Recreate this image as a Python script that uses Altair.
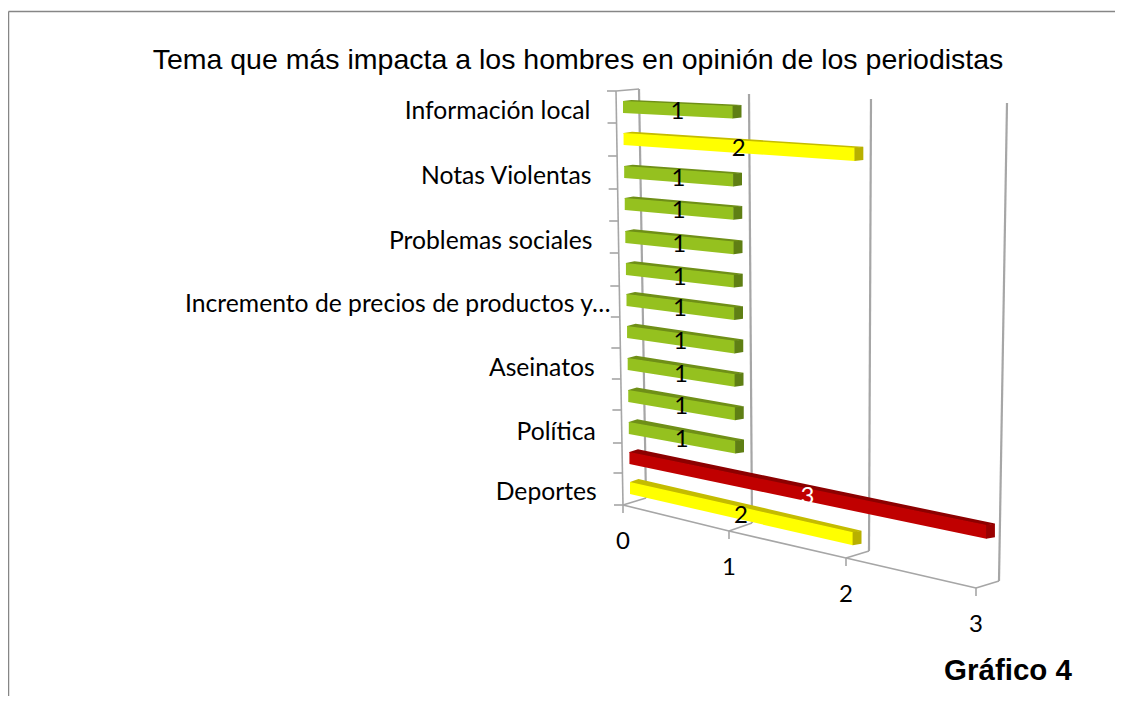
import altair as alt
import pandas as pd

# ---------- chart content ----------
TITLE = "Tema que más impacta a los hombres en opinión de los periodistas"
FOOTER = "Gráfico 4"
# bottom to top, as on the category axis; only every other category shows its name
categories = ["Deportes", "", "Política", "", "Aseinatos", "",
              "Incremento de precios de productos y…", "", "Problemas sociales", "",
              "Notas Violentas", "", "Información local"]
values = [2, 3, 1, 1, 1, 1, 1, 1, 1, 1, 1, 2, 1]
value_ticks = [0, 1, 2, 3]

# colour per value: (front, top, side, label)
palette = {
    1: ("#95C11F", "#6F8F17", "#5F7F14", "black"),
    2: ("#FFFF00", "#C4BC00", "#B8B000", "black"),
    3: ("#C00000", "#8C0000", "#9A0000", "white"),
}

# ---------- perspective calibration: page pixels of the 3-D box ----------
FRONT_X_BOTTOM = [630, 736, 853, 986]
FRONT_X_TOP = [623, 733, 855, 991]
ROW_TOP = [482, 452, 422, 390, 358, 326, 294, 263, 231, 198, 166, 133, 101]
SLOPE = [0, 1.0, 2.3, 3.58]
EDGE_Y = [505, 473, 443, 410, 379, 348, 317, 286, 253, 221, 189, 156, 123, 91]
DEPTH_DX = 8.5
FLOOR = [(623, 505), (729, 531), (846, 558), (976, 588)]
WALL_BOTTOM = [(646, 498), (752, 523), (869, 551), (999, 581)]
WALL_TOP = [(639, 89), (749, 94), (871, 99), (1007, 103)]
LEFT_TOP = (616, 91)


def bar_point(i, v):
    t = i / 12
    x = FRONT_X_BOTTOM[v] + (FRONT_X_TOP[v] - FRONT_X_BOTTOM[v]) * t
    y = ROW_TOP[i] + (21.8 - 1.4 * i) * SLOPE[v]
    return x, y, 12 + 0.6 * v


faces, labels = [], []
for i, (cat, val) in enumerate(zip(categories, values)):
    front, top, side, ink = palette[val]
    x0, y0, h0 = bar_point(i, 0)
    x1, y1, h1 = bar_point(i, val)
    k = (y1 - y0) / (x1 - x0)
    dy0 = -3 + 2 * i / 12      # depth rise of the bar at its root
    dy1 = -1.5 + 0.5 * i / 12  # depth rise of the bar at its tip
    back_k = (y1 + dy1 - y0 - dy0) / (x1 - x0)
    lap = 0.8                  # overlap hides the seam between two faces
    # top face
    rows = [(x0, y0, y0 + lap),
            (x0 + DEPTH_DX, y0 + dy0, y0 + k * DEPTH_DX + lap),
            (x1, y1 + dy1 - back_k * DEPTH_DX, y1 + lap),
            (x1 + DEPTH_DX, y1 + dy1, y1 + dy1)]
    faces += [dict(key=f"{i:02d}a", x=a, y=b, y2=c, shade=top) for a, b, c in rows]
    # front face
    faces += [dict(key=f"{i:02d}b", x=x0, y=y0, y2=y0 + h0, shade=front),
              dict(key=f"{i:02d}b", x=x1, y=y1, y2=y1 + h1, shade=front)]
    # side face
    faces += [dict(key=f"{i:02d}c", x=x1 - 0.4, y=y1, y2=y1 + h1, shade=side),
              dict(key=f"{i:02d}c", x=x1 + DEPTH_DX, y=y1 + dy1, y2=y1 + h1 + dy1, shade=side)]
    labels.append(dict(x=(x0 + x1) / 2 - 0.5, y=(y0 + y1 + h1 / 2 + h0 / 2) / 2 + 2.5, text=str(val), ink=ink))
faces = pd.DataFrame(faces)
labels = pd.DataFrame(labels)

# grid lines and ticks
GAP = 8
walls, segs = [], []
for v in value_ticks:
    walls.append(dict(x=WALL_TOP[v][0], y=WALL_TOP[v][1], x2=WALL_BOTTOM[v][0], y2=WALL_BOTTOM[v][1]))
    segs.append(dict(x=WALL_BOTTOM[v][0], y=WALL_BOTTOM[v][1], x2=FLOOR[v][0], y2=FLOOR[v][1]))
    segs.append(dict(x=FLOOR[v][0], y=FLOOR[v][1], x2=FLOOR[v][0], y2=FLOOR[v][1] + GAP))
    if v:
        segs.append(dict(x=FLOOR[v - 1][0], y=FLOOR[v - 1][1], x2=FLOOR[v][0], y2=FLOOR[v][1]))
segs.append(dict(x=LEFT_TOP[0], y=LEFT_TOP[1], x2=FLOOR[0][0], y2=FLOOR[0][1]))
segs.append(dict(x=LEFT_TOP[0], y=LEFT_TOP[1], x2=WALL_TOP[0][0], y2=WALL_TOP[0][1]))


def left_edge_x(y):
    return LEFT_TOP[0] + (FLOOR[0][0] - LEFT_TOP[0]) * (y - LEFT_TOP[1]) / (FLOOR[0][1] - LEFT_TOP[1])


for y in EDGE_Y:
    segs.append(dict(x=left_edge_x(y) - 9, y=y, x2=left_edge_x(y), y2=y))
segs = pd.DataFrame(segs)
walls = pd.DataFrame(walls)

border = pd.DataFrame([dict(x=8.5, y=11.5, x2=1115, y2=11.5), dict(x=8.5, y=11.5, x2=8.5, y2=696)])

cat_labels = pd.DataFrame([
    dict(x=left_edge_x(ROW_TOP[i] + 8) - 26 + (17 if c.endswith("…") else 0), y=ROW_TOP[i] + 10.5, text=c)
    for i, c in enumerate(categories) if c
])
tick_labels = pd.DataFrame([dict(x=FLOOR[v][0], y=FLOOR[v][1] + 36.5, text=str(v)) for v in value_ticks])

# ---------- scales map page pixels into the plot ----------
X = alt.X("x:Q", axis=None, scale=alt.Scale(domain=[8, 1115], nice=False))
Y = alt.Y("y:Q", axis=None, scale=alt.Scale(domain=[696, 8], nice=False))
FONT = "Lato"


def text_layer(df, size, align, color="black", font=FONT, bold=False):
    return alt.Chart(df).mark_text(
        fontSize=size, font=font, align=align, baseline="middle",
        color=color, fontWeight="bold" if bold else "normal"
    ).encode(x=X, y=Y, text="text:N")


layers = [
    alt.Chart(border).mark_rule(color="#868686", strokeWidth=1.5).encode(x=X, y=Y, x2="x2:Q", y2="y2:Q"),
    alt.Chart(walls).mark_rule(color="#A6A6A6", strokeWidth=2.2).encode(x=X, y=Y, x2="x2:Q", y2="y2:Q"),
    alt.Chart(segs).mark_rule(color="#A6A6A6", strokeWidth=1.6).encode(x=X, y=Y, x2="x2:Q", y2="y2:Q"),
    alt.Chart(faces).mark_area().encode(
        x=X, y=Y, y2="y2:Q",
        fill=alt.Fill("shade:N", scale=None),
        detail="key:N",
    ),
    alt.Chart(labels).mark_text(fontSize=24, font=FONT, baseline="middle", align="center").encode(
        x=X, y=Y, text="text:N", color=alt.Color("ink:N", scale=None)),
    text_layer(cat_labels, 24.7, "right"),
    text_layer(tick_labels, 24, "center"),
    text_layer(pd.DataFrame([dict(x=578, y=60, text=TITLE)]), 28.5, "center", font="Liberation Sans"),
    text_layer(pd.DataFrame([dict(x=1008, y=671, text=FOOTER)]), 29.5, "center", font="Liberation Sans", bold=True),
]

chart = (
    alt.layer(*layers)
    .properties(width=1107, height=688, padding=0, autosize="none", background="white")
    .configure_view(stroke=None)
)
chart.save("out.html", embed_options={"renderer": "svg", "actions": False})
